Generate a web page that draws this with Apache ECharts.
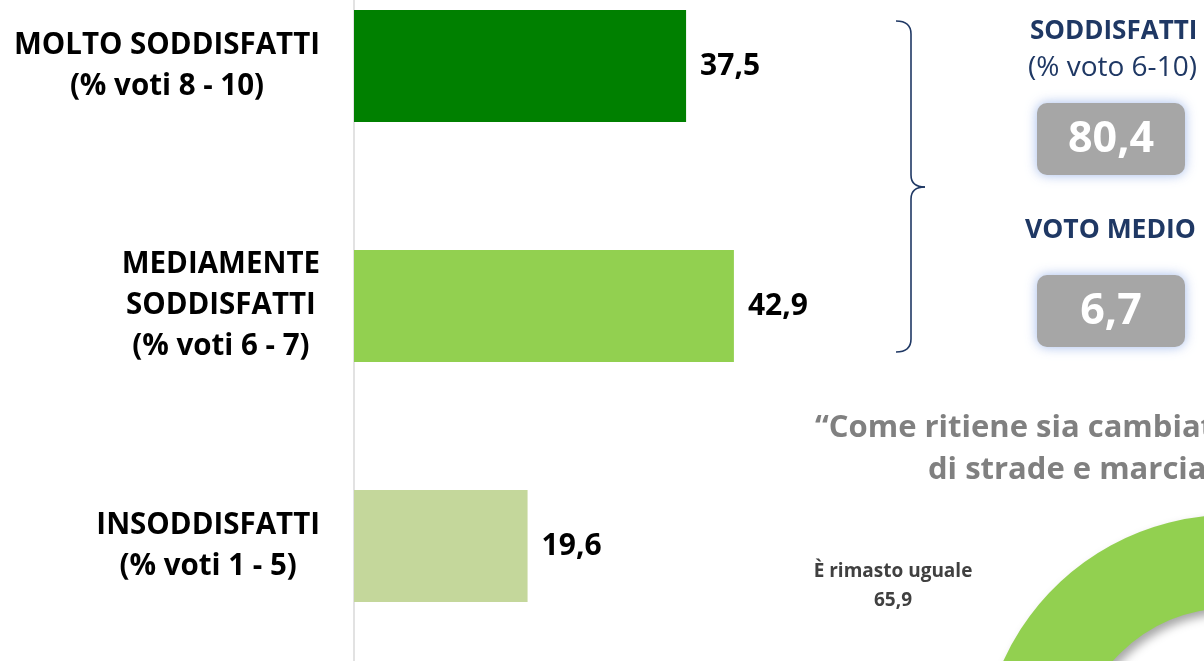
<!DOCTYPE html>
<html>
<head>
<meta charset="utf-8">
<script src="https://cdn.jsdelivr.net/npm/echarts@6/dist/echarts.min.js"></script>
<style>
  html, body { margin: 0; padding: 0; background: #ffffff; }
  #chart { width: 1204px; height: 661px; }
</style>
</head>
<body>
<div id="chart"></div>
<script>
// ---- data ----
const categories = ['MOLTO SODDISFATTI\n(% voti 8 - 10)', 'MEDIAMENTE\nSODDISFATTI\n(% voti 6 - 7)', 'INSODDISFATTI\n(% voti 1 - 5)'];
const values = [37.5, 42.9, 19.6];
const barColors = ['#008000', '#92d050', '#c4d79b'];
const soddisfattiTotale = 80.4;
const votoMedio = 6.7;
const pieNames = ['Altro', 'È rimasto uguale'];
const pieValues = [34.1, 65.9];

const fmt = v => String(v.toFixed(1)).replace('.', ',');
const FONT = '"Open Sans", Lato, sans-serif';
const navy = '#1f3864';
const braceStyle = { fill: 'none', stroke: navy, lineWidth: 1.6 };

const chart = echarts.init(document.getElementById('chart'));
const option = {
  backgroundColor: '#ffffff',
  animation: false,
  grid: { left: 354, right: 53, top: -54, bottom: -5, containLabel: false, outerBoundsMode: 'none' },
  xAxis: {
    type: 'value', min: 0, max: 90,
    show: false
  },
  yAxis: {
    type: 'category', inverse: true, data: categories,
    axisLine: { show: true, lineStyle: { color: '#d9d9d9', width: 1.5 } },
    axisTick: { show: false },
    axisLabel: {
      align: 'right', margin: 34,
      formatter: v => v.split('\n').map(l => '{c|' + l + '}').join('\n'),
      rich: { c: { align: 'center', fontSize: 29.5, fontWeight: 'bold', lineHeight: 41, color: '#000', fontFamily: FONT } }
    }
  },
  series: [
    {
      type: 'bar', barWidth: 112,
      data: values.map((v, i) => ({ value: v, itemStyle: { color: barColors[i] } })),
      label: {
        show: true, position: 'right', distance: 14,
        formatter: p => fmt(p.value),
        fontSize: 30, fontWeight: 'bold', color: '#000', fontFamily: FONT
      }
    },
    {
      type: 'pie', center: [1230, 764], radius: [156, 249],
      startAngle: 90, clockwise: true,
      label: { show: false }, labelLine: { show: false },
      itemStyle: { shadowBlur: 10, shadowOffsetX: 4, shadowOffsetY: 5, shadowColor: 'rgba(0,0,0,0.35)' },
      data: pieNames.map((n, i) => ({ name: n, value: pieValues[i], itemStyle: { color: i === 1 ? '#92d050' : '#00b050' } }))
    }
  ],
  graphic: [
    { type: 'bezierCurve', shape: { x1: 896, y1: 21, x2: 911, y2: 34, cpx1: 911, cpy1: 21 }, style: braceStyle },
    { type: 'line', shape: { x1: 911, y1: 34, x2: 911, y2: 175 }, style: braceStyle },
    { type: 'bezierCurve', shape: { x1: 911, y1: 175, x2: 925, y2: 187, cpx1: 911, cpy1: 187 }, style: braceStyle },
    { type: 'bezierCurve', shape: { x1: 925, y1: 187, x2: 911, y2: 199, cpx1: 911, cpy1: 187 }, style: braceStyle },
    { type: 'line', shape: { x1: 911, y1: 199, x2: 911, y2: 339 }, style: braceStyle },
    { type: 'bezierCurve', shape: { x1: 911, y1: 339, x2: 896, y2: 352, cpx1: 911, cpy1: 352 }, style: braceStyle },
    { type: 'text', x: 1030, y: 32, style: { text: 'SODDISFATTI', fontSize: 26, fontWeight: 'bold', fill: navy, verticalAlign: 'middle', fontFamily: FONT } },
    { type: 'text', x: 1028, y: 68, style: { text: '(% voto 6-10)', fontSize: 28, fill: navy, verticalAlign: 'middle', fontFamily: FONT } },
    {
      type: 'rect', shape: { x: 1037, y: 103, width: 148, height: 72, r: 10 },
      style: { fill: '#a6a6a6', shadowBlur: 12, shadowColor: 'rgba(140,170,230,0.8)' }
    },
    {
      type: 'text', x: 1111, y: 140,
      style: { text: fmt(soddisfattiTotale), fontSize: 43, fontWeight: 'bold', fill: '#ffffff', align: 'center', verticalAlign: 'middle', fontFamily: FONT }
    },
    { type: 'text', x: 1025, y: 230, style: { text: 'VOTO MEDIO', fontSize: 26.5, fontWeight: 'bold', fill: navy, verticalAlign: 'middle', fontFamily: FONT } },
    {
      type: 'rect', shape: { x: 1037, y: 275, width: 148, height: 72, r: 10 },
      style: { fill: '#a6a6a6', shadowBlur: 12, shadowColor: 'rgba(140,170,230,0.8)' }
    },
    {
      type: 'text', x: 1111, y: 312,
      style: { text: fmt(votoMedio), fontSize: 43, fontWeight: 'bold', fill: '#ffffff', align: 'center', verticalAlign: 'middle', fontFamily: FONT }
    },
    {
      type: 'text', x: 815, y: 428,
      style: { text: '“Come ritiene sia cambiato lo stato', fontSize: 31, fontWeight: 'bold', fill: '#808080', verticalAlign: 'middle', fontFamily: FONT }
    },
    {
      type: 'text', x: 928, y: 470,
      style: { text: 'di strade e marciapiedi?”', fontSize: 31, fontWeight: 'bold', fill: '#808080', verticalAlign: 'middle', fontFamily: FONT }
    },
    {
      type: 'text', x: 893, y: 586,
      style: { text: pieNames[1] + '\n' + fmt(pieValues[1]), fontSize: 19, fontWeight: 'bold', fill: '#404040', align: 'center', verticalAlign: 'middle', lineHeight: 29, fontFamily: FONT }
    }
  ]
};
chart.setOption(option);
</script>
</body>
</html>
